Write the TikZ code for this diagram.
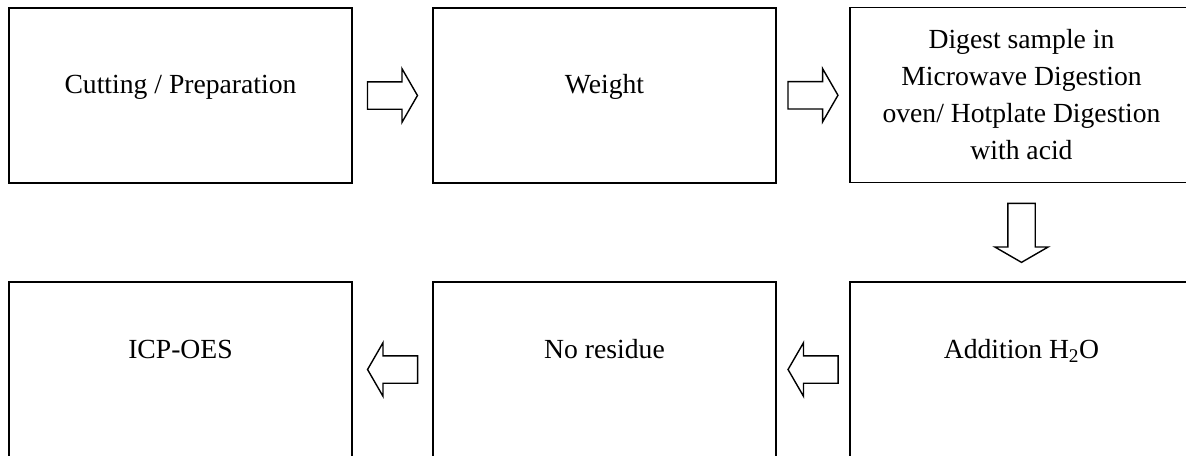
\documentclass[tikz,border=0pt]{standalone}
\usepackage{fontspec}
\setmainfont{Liberation Serif}
\usetikzlibrary{calc,shapes.arrows}

\begin{document}
\begin{tikzpicture}[ font=\fontsize{23.6}{31.6}\selectfont,
    stepbox/.style={ draw, line width=1.7pt, minimum width=10.29cm,
    minimum height=5.25cm, inner sep=0pt, align=center },
    oneline/.style={ text height=0.6cm, text depth=0.72cm },
    lowline/.style={ text height=0.6cm, text depth=1.28cm },
    blockarrow/.style={ draw, single arrow, line width=1.2pt,
    inner sep=0.39cm, single arrow head extend=0.39cm,
    single arrow tip angle=120 } ]
  \useasboundingbox (0,0) rectangle (35.58,-13.68);
  % top row
  \node[stepbox,oneline] (cut) at (5.415,-2.865) {Cutting / Preparation};
  \node[stepbox,oneline] (weigh) at (18.135,-2.865) {Weight};
  \node[stepbox] (digest) at (30.645,-2.85) {Digest sample in\\
    Microwave Digestion\\ oven/ Hotplate Digestion\\ with acid};
  % bottom row
  \node[stepbox,lowline] (addit) at (30.645,-11.085) {Addition H\textsubscript{2}O};
  \node[stepbox,lowline] (resid) at (18.135,-11.085) {No residue};
  \node[stepbox,lowline] (icp) at (5.415,-11.085) {ICP-OES};
  \foreach \a/\b/\r/\dx/\dy/\l in {cut/weigh/0/-0.12/0/1.5,
    weigh/digest/0/-0.12/0/1.5, digest/addit/270/0/0.1/1.77,
    addit/resid/180/0.12/0/1.5, resid/icp/180/0.12/0/1.5}
  \node[blockarrow, shape border rotate=\r, minimum height=\l cm,
    xshift=\dx cm, yshift=\dy cm] (\a\b) at ($(\a)!0.5!(\b)$) {};
\end{tikzpicture}
\end{document}
